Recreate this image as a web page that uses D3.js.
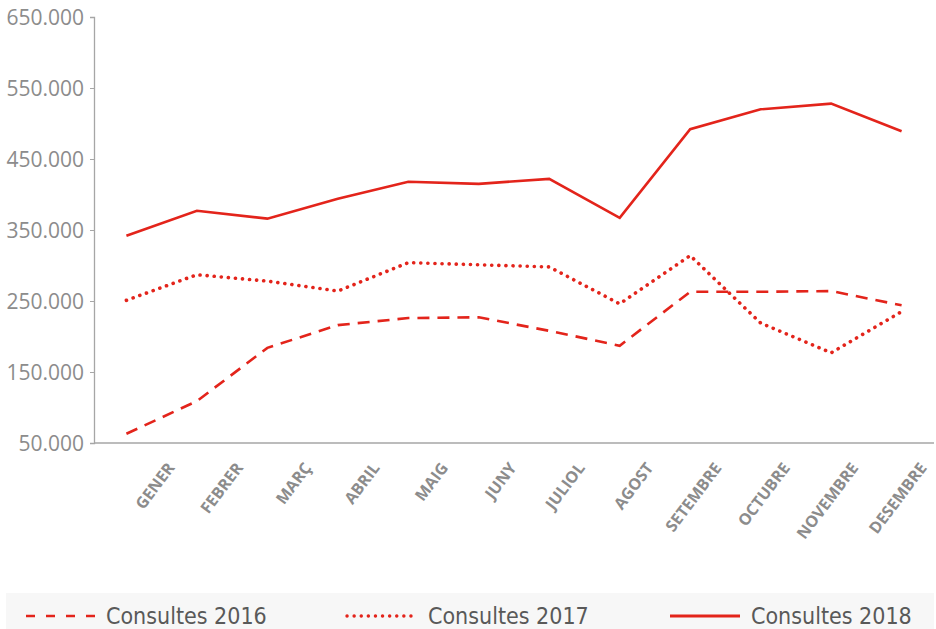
<!DOCTYPE html>
<head>
  <meta charset="utf-8">
  <script src="https://d3js.org/d3.v7.min.js"></script>
  <style>
body { margin: 0; background: #fff; }
svg { display: block; }
.ytick text { font-family: "Open Sans", sans-serif; font-size: 21px; fill: #8c8c8c; }
.xlab { font-family: "Open Sans", sans-serif; font-size: 16px; font-weight: 700; fill: #8c8c8c; }
.legend text { font-family: "Liberation Sans Narrow", "DejaVu Sans Condensed", sans-serif; font-size: 23px; fill: #595959; }
  </style>
</head>
<body>
<svg width="936" height="629"></svg>
<script>
var months = ["GENER", "FEBRER", "MARÇ", "ABRIL", "MAIG", "JUNY", "JULIOL", "AGOST", "SETEMBRE", "OCTUBRE", "NOVEMBRE", "DESEMBRE"];
var consultes2016 = [63000, 109000, 184000, 216000, 226000, 227000, 208000, 187000, 263000, 263000, 264000, 244000];
var consultes2017 = [251000, 287000, 278000, 264000, 304000, 301000, 298000, 246000, 314000, 219000, 177000, 235000];
var consultes2018 = [342000, 377000, 366000, 394000, 418000, 415000, 422000, 367000, 492000, 520000, 528000, 489000];
var yTicks = [50000, 150000, 250000, 350000, 450000, 550000, 650000];
var seriesNames = ["Consultes 2016", "Consultes 2017", "Consultes 2018"];

var red = "#e3241b";
var svg = d3.select("svg");
var margin = {top: 17, left: 94, right: 2, bottom: 186};
var width = 936 - margin.left - margin.right;
var height = 629 - margin.top - margin.bottom;

var x = d3.scalePoint().domain(months).range([0, width]).padding(0.46);
var y = d3.scaleLinear().domain([50000, 650000]).range([height, 0]);

var g = svg.append("g").attr("transform", "translate(" + margin.left + "," + margin.top + ")");

// y axis
var yAxis = g.append("g").attr("class", "ytick")
  .call(d3.axisLeft(y).tickValues(yTicks).tickSize(4).tickPadding(6)
    .tickFormat(function(d) { return d3.format(",.0f")(d).replace(/,/g, "."); }));
yAxis.select(".domain").attr("stroke", "#a6a6a6").attr("stroke-width", 1.3);
yAxis.selectAll(".tick line").attr("stroke", "#a6a6a6");
yAxis.selectAll("text").attr("dy", "0.36em");

// x axis line
g.append("line")
  .attr("x1", 0).attr("x2", width)
  .attr("y1", height).attr("y2", height)
  .attr("stroke", "#a6a6a6").attr("stroke-width", 1.3);

// month labels, rotated
var labelX = d3.scalePoint().domain(months)
  .range([x(months[0]) + 49, x(months[months.length - 1]) + 26]);
g.selectAll(".xlab").data(months).enter().append("text")
  .attr("class", "xlab")
  .attr("text-anchor", "end")
  .attr("transform", function(d) { return "translate(" + labelX(d) + "," + (height + 25) + ") rotate(-53)"; })
  .text(function(d) { return d; });

var line = d3.line()
  .x(function(d, i) { return x(months[i]); })
  .y(function(d) { return y(d); });

var styles = [
  {data: consultes2016, dash: "12,8", cap: "butt", w: 2.6},
  {data: consultes2017, dash: "0.1,7", cap: "round", w: 3.6},
  {data: consultes2018, dash: null, cap: "butt", w: 2.6}
];

styles.forEach(function(s) {
  g.append("path")
    .datum(s.data)
    .attr("fill", "none")
    .attr("stroke", red)
    .attr("stroke-width", s.w)
    .attr("stroke-linecap", s.cap)
    .attr("stroke-dasharray", s.dash)
    .attr("d", line);
});

// legend
var legend = svg.append("g").attr("class", "legend");
legend.append("rect")
  .attr("x", 6).attr("y", 593).attr("width", 928).attr("height", 40)
  .attr("fill", "#f7f7f7");

var legendX = [26, 347, 670];
var legendLen = [69, 70, 70];
var legendDash = ["9,11", "0.1,7", null];
var legendW = [2.6, 3.4, 3];
var legendTextX = [80, 81, 81];
seriesNames.forEach(function(name, i) {
  var lg = legend.append("g").attr("transform", "translate(" + legendX[i] + ",616)");
  lg.append("line")
    .attr("x1", 0).attr("x2", legendLen[i])
    .attr("y1", 0).attr("y2", 0)
    .attr("stroke", red)
    .attr("stroke-width", legendW[i])
    .attr("stroke-linecap", i === 1 ? "round" : "butt")
    .attr("stroke-dasharray", legendDash[i]);
  lg.append("text")
    .attr("x", legendTextX[i])
    .attr("y", 8)
    .text(name);
});
</script>
</body>
